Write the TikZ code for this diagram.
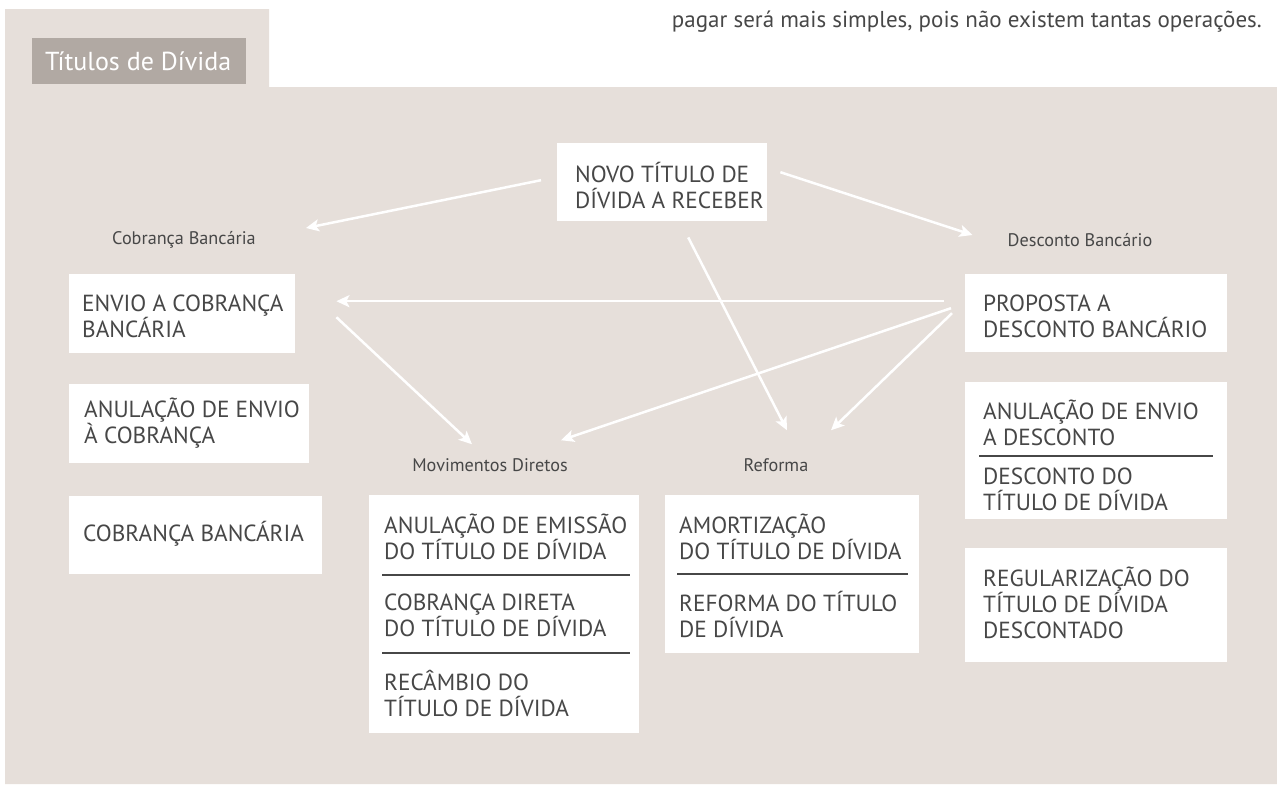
\documentclass[tikz,border=0pt]{standalone}
\usepackage{fontspec}
\setmainfont{PT Sans}
\usetikzlibrary{arrows.meta,calc}
\definecolor{panel}{HTML}{E6DFDA}
\definecolor{tabgray}{HTML}{B1A9A3}
\definecolor{ink}{HTML}{474747}
\begin{document}
\begin{tikzpicture}[x=1pt,y=-1pt,
  box/.style={fill=white, draw=none, inner sep=0pt, anchor=north west},
  txt/.style={text=ink, font=\fontsize{23.3}{26}\selectfont, align=left, anchor=west, inner sep=0pt},
  lbl/.style={text=ink, font=\fontsize{18.2}{21}\selectfont, inner sep=0pt},
  sepline/.style={draw=ink, line width=1.5pt},
  arr/.style={draw=white, line width=2.5pt, -{Stealth[length=13pt,width=12pt,inset=3pt]}}
]
\useasboundingbox (0,0) rectangle (1277,785);
% panel
\fill[panel] (5,9) -- (269,9) -- (269,87) -- (1277,87) -- (1277,784) -- (5,784) -- cycle;
% title tab
\node[box, fill=tabgray, minimum width=214pt, minimum height=46pt] (title) at (32,38) {};
\node[anchor=west, inner sep=0pt, text=white, font=\fontsize{26}{30}\selectfont] (titleT) at (45,61) {Títulos de Dívida};
% top running text
\node[anchor=base east, inner sep=0pt, text=ink, font=\fontsize{23}{27}\selectfont] (topline) at (1262,27) {pagar será mais simples, pois não existem tantas operações.};

% central node
\node[box, minimum width=210pt, minimum height=78pt] (novo) at (557,143) {};
\node[txt] (novoT) at (575,185) {NOVO TÍTULO DE\\DÍVIDA A RECEBER};

% group labels
\node[lbl] (cobrLbl) at (184,240) {Cobrança Bancária};
\node[lbl] (descLbl) at (1080,240) {Desconto Bancário};
\node[lbl] (movLbl) at (490,465) {Movimentos Diretos};
\node[lbl] (refLbl) at (776,465) {Reforma};

% left column
\node[box, minimum width=226pt, minimum height=79pt] (envio) at (69,274) {};
\node[txt] (envioT) at (82,316) {ENVIO A COBRANÇA\\BANCÁRIA};
\node[box, minimum width=240pt, minimum height=79pt] (anul) at (69,384) {};
\node[txt] (anulT) at (84,423) {ANULAÇÃO DE ENVIO\\À COBRANÇA};
\node[box, minimum width=253pt, minimum height=78pt] (cobr) at (69,496) {};
\node[txt] (cobrT) at (83,534) {COBRANÇA BANCÁRIA};

% right column
\node[box, minimum width=262pt, minimum height=78pt] (prop) at (965,274) {};
\node[txt] (propT) at (983,316) {PROPOSTA A\\DESCONTO BANCÁRIO};
\node[box, minimum width=262pt, minimum height=137pt] (anuldesc) at (965,382) {};
\node[txt] (anuldescT) at (983,423) {ANULAÇÃO DE ENVIO\\A DESCONTO};
\draw[sepline] (979,456) -- (1213,456);
\node[txt] (descT) at (983,489) {DESCONTO DO\\TÍTULO DE DÍVIDA};
\node[box, minimum width=262pt, minimum height=114pt] (regul) at (965,548) {};
\node[txt] (regulT) at (983,603) {REGULARIZAÇÃO DO\\TÍTULO DE DÍVIDA\\DESCONTADO};

% movimentos diretos
\node[box, minimum width=270pt, minimum height=238pt] (mov) at (369,495) {};
\node[txt] (movT1) at (384,537) {ANULAÇÃO DE EMISSÃO\\DO TÍTULO DE DÍVIDA};
\draw[sepline] (382,575) -- (630,575);
\node[txt] (movT2) at (384,615) {COBRANÇA DIRETA\\DO TÍTULO DE DÍVIDA};
\draw[sepline] (382,653) -- (630,653);
\node[txt] (movT3) at (384,693) {RECÂMBIO DO\\TÍTULO DE DÍVIDA};

% reforma
\node[box, minimum width=254pt, minimum height=158pt] (ref) at (665,495) {};
\node[txt] (refT1) at (679,537) {AMORTIZAÇÃO\\DO TÍTULO DE DÍVIDA};
\draw[sepline] (677,574) -- (908,574);
\node[txt] (refT2) at (679,614) {REFORMA DO TÍTULO\\DE DÍVIDA};

% connectors
\draw[arr] ([shift={(-16,-2)}]novo.west) -- ([shift={(50,-12)}]cobrLbl.east);
\draw[arr] ([shift={(13,-10)}]novo.east) -- ([shift={(-35,-5)}]descLbl.west);
\draw[arr] ([shift={(26,16)}]novo.south) -- ([shift={(11,-28)}]refLbl.north);
\draw[arr] ([shift={(-21,-12)}]prop.west) -- ([shift={(41,-12.5)}]envio.east);
\draw[arr] ([shift={(41,3.5)}]envio.east) -- ([shift={(-18,-14)}]movLbl.north);
\draw[arr] ([shift={(-14,-5)}]prop.west) -- ([shift={(71,-18)}]movLbl.north);
\draw[arr] ([shift={(-13,0)}]prop.west) -- ([shift={(55,-28)}]refLbl.north);
\end{tikzpicture}
\end{document}
